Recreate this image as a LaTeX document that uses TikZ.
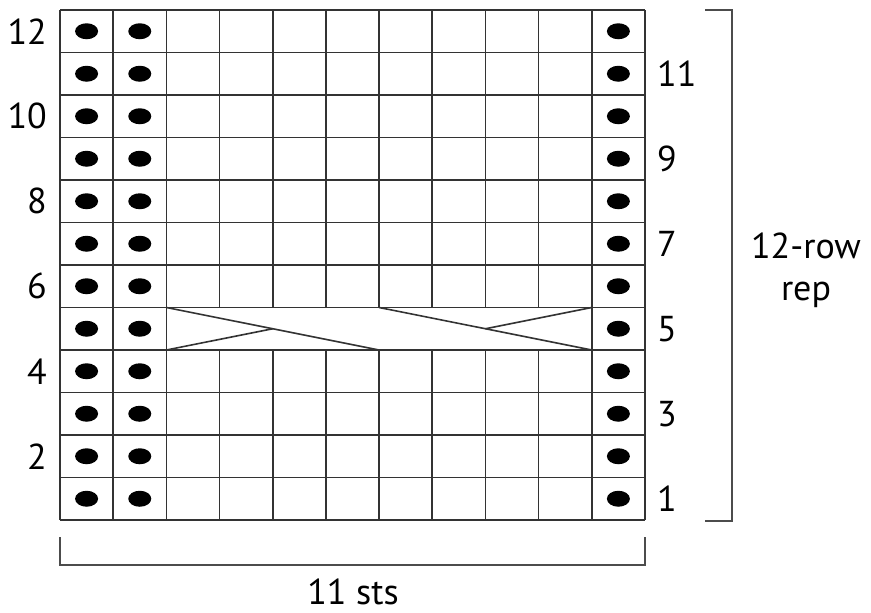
\documentclass[tikz,border=0pt]{standalone}
\usepackage{fontspec}
\setmainfont{PT Sans}
\begin{document}
\begin{tikzpicture}[x=1pt,y=-1pt,
  gridline/.style={draw=black!80,line width=1.6pt},
  bracketline/.style={draw=black!70,line width=1.6pt},
  stdot/.style={fill=black},
  lbl/.style={font=\fontsize{36}{40}\selectfont,inner sep=0pt}]
\useasboundingbox (0,0) rectangle (871,613);
\def\cw{53.18}
\def\rh{42.5}
% horizontal lines
\foreach \i in {0,...,12} \draw[gridline] (60,10+\i*\rh) -- (645,10+\i*\rh);
% vertical lines
\foreach \k in {0,1,2,10,11} \draw[gridline] (60+\k*\cw,10) -- (60+\k*\cw,520);
\foreach \k in {3,...,9} {
  \draw[gridline] (60+\k*\cw,10) -- (60+\k*\cw,307.5);
  \draw[gridline] (60+\k*\cw,350) -- (60+\k*\cw,520);
}
% cable cross
\coordinate (ctl) at (60+2*\cw,307.5);
\coordinate (cbl) at (60+2*\cw,350);
\coordinate (cbm) at (60+6*\cw,350);
\coordinate (ctm) at (60+6*\cw,307.5);
\coordinate (cbr) at (60+10*\cw,350);
\coordinate (ctr) at (60+10*\cw,307.5);
\coordinate (cx1) at (60+4*\cw,328.75);
\coordinate (cx2) at (60+8*\cw,328.75);
\draw[gridline] (ctl) -- (cbm);
\draw[gridline] (cbl) -- (cx1);
\draw[gridline] (ctm) -- (cbr);
\draw[gridline] (ctr) -- (cx2);
% dots
\foreach \r in {1,...,12} {
  \foreach \c in {1,2,11} {
    \fill[stdot] (60+\c*\cw-0.5*\cw,520-\r*\rh+0.5*\rh) ellipse [x radius=11.5, y radius=8];
  }
}
% row labels
\foreach \r in {2,4,...,12} \node[lbl,anchor=east] (L\r) at (47,520-\r*\rh+0.5*\rh) {\r};
\foreach \r in {1,3,...,11} \node[lbl,anchor=west] (R\r) at (657,520-\r*\rh+0.5*\rh) {\r};
% right bracket
\coordinate (rb1) at (705,10);
\coordinate (rb2) at (732,10);
\coordinate (rb3) at (732,521);
\coordinate (rb4) at (705,521);
\draw[bracketline] (rb1) -- (rb2) -- (rb3) -- (rb4);
\node[lbl,align=center] (rep) at (806,270) {12-row\\[2pt]rep};
% bottom bracket
\coordinate (bb1) at (60,537);
\coordinate (bb2) at (60,565);
\coordinate (bb3) at (645,565);
\coordinate (bb4) at (645,537);
\draw[bracketline] (bb1) -- (bb2) -- (bb3) -- (bb4);
\node[lbl,anchor=base] (sts) at (353,604) {11 sts};
\end{tikzpicture}
\end{document}
